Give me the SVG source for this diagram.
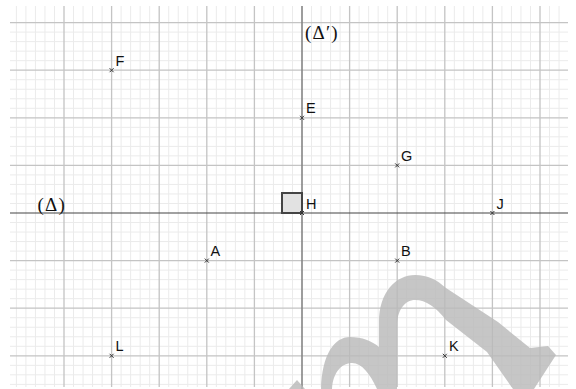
<svg xmlns="http://www.w3.org/2000/svg" width="576" height="389" viewBox="0 0 576 389">
<defs>
<style>
.minor{stroke:#ebebeb;stroke-width:1;fill:none}
.major{stroke:#c4c4c4;stroke-width:1.3;fill:none}
.mark{stroke:#333;stroke-width:1;fill:none}
.lbl{font-family:"Liberation Sans",Arial,sans-serif;font-size:14.5px;fill:#111}
.math{font-family:"Liberation Serif","DejaVu Serif",serif;font-size:19px;letter-spacing:1.2px;fill:#111}
.wm{fill:#bababa;fill-opacity:0.82;stroke:none}
</style>
</defs>
<rect width="576" height="389" fill="#fff"/>
<g id="grid">
<path class="minor" d="M16.4 6V387M25.92 6V387M35.44 6V387M44.96 6V387M54.48 6V387M73.52 6V387M83.04 6V387M92.56 6V387M102.08 6V387M121.12 6V387M130.64 6V387M140.16 6V387M149.68 6V387M168.72 6V387M178.24 6V387M187.76 6V387M197.28 6V387M216.32 6V387M225.84 6V387M235.36 6V387M244.88 6V387M263.92 6V387M273.44 6V387M282.96 6V387M292.48 6V387M311.52 6V387M321.04 6V387M330.56 6V387M340.08 6V387M359.12 6V387M368.64 6V387M378.16 6V387M387.68 6V387M406.72 6V387M416.24 6V387M425.76 6V387M435.28 6V387M454.32 6V387M463.84 6V387M473.36 6V387M482.88 6V387M501.92 6V387M511.44 6V387M520.96 6V387M530.48 6V387M549.52 6V387M559.04 6V387"/>
<path class="minor" d="M10 32.12H568M10 41.64H568M10 51.16H568M10 60.68H568M10 79.72H568M10 89.24H568M10 98.76H568M10 108.28H568M10 127.32H568M10 136.84H568M10 146.36H568M10 155.88H568M10 174.92H568M10 184.44H568M10 193.96H568M10 203.48H568M10 222.52H568M10 232.04H568M10 241.56H568M10 251.08H568M10 270.12H568M10 279.64H568M10 289.16H568M10 298.68H568M10 317.72H568M10 327.24H568M10 336.76H568M10 346.28H568M10 365.32H568M10 374.84H568M10 384.36H568"/>
<path class="major" d="M64 6V387M111.6 6V387M159.2 6V387M206.8 6V387M254.4 6V387M349.6 6V387M397.2 6V387M444.8 6V387M492.4 6V387M540 6V387"/>
<path class="major" d="M10 22.6H568M10 70.2H568M10 117.8H568M10 165.4H568M10 260.6H568M10 308.2H568M10 355.8H568"/>
</g>
<g id="connectors">
<path id="delta-prime-axis" d="M302 6V389" stroke="#858585" stroke-width="1.6" fill="none"/>
<path id="delta-axis" d="M10 213H568" stroke="#444" stroke-width="1.1" fill="none"/>
</g>
<g id="right-angle">
<rect x="282" y="193" width="20" height="20" fill="#e2e2e2" stroke="#444" stroke-width="2"/>
</g>
<g id="watermark">
<path class="wm" d="M379 389L379 322C379 292 396 275 415 275C428 275 437 280 446 288L498 322L530 348L548 346L556 355L534 389L513 389L487 352L446 320C436 307 426 300 415 300C405 300 397 310 397 326L397 389Z"/>
<path class="wm" d="M321 389C322 355 334 337 350 337C362 337 372 341 379 347L379 389L377 389C370 374 362 363 352 363C342 363 333 372 332 389Z"/>
<polygon class="wm" points="297,380 305,389 289,389"/>
</g>
<g id="node-F"><path class="mark" d="M109.6 68.2l4 4m0-4l-4 4"/><text class="lbl" x="115.5" y="65.5">F</text></g>
<g id="node-E"><path class="mark" d="M300 115.8l4 4m0-4l-4 4"/><text class="lbl" x="306" y="113">E</text></g>
<g id="node-G"><path class="mark" d="M395.2 163.4l4 4m0-4l-4 4"/><text class="lbl" x="401" y="160.5">G</text></g>
<g id="node-H"><path class="mark" d="M300 211l4 4m0-4l-4 4"/><text class="lbl" x="306" y="208.5">H</text></g>
<g id="node-J"><path class="mark" d="M490.4 211l4 4m0-4l-4 4"/><text class="lbl" x="496.5" y="208.5">J</text></g>
<g id="node-A"><path class="mark" d="M204.8 258.6l4 4m0-4l-4 4"/><text class="lbl" x="210.5" y="256">A</text></g>
<g id="node-B"><path class="mark" d="M395.2 258.6l4 4m0-4l-4 4"/><text class="lbl" x="401" y="256">B</text></g>
<g id="node-L"><path class="mark" d="M109.6 353.8l4 4m0-4l-4 4"/><text class="lbl" x="115.5" y="351">L</text></g>
<g id="node-K"><path class="mark" d="M442.8 353.8l4 4m0-4l-4 4"/><text class="lbl" x="449" y="351">K</text></g>
<g id="label-delta-prime"><text class="math" x="305" y="39">(Δ′)</text></g>
<g id="label-delta"><text class="math" x="37.5" y="211">(Δ)</text></g>
</svg>
